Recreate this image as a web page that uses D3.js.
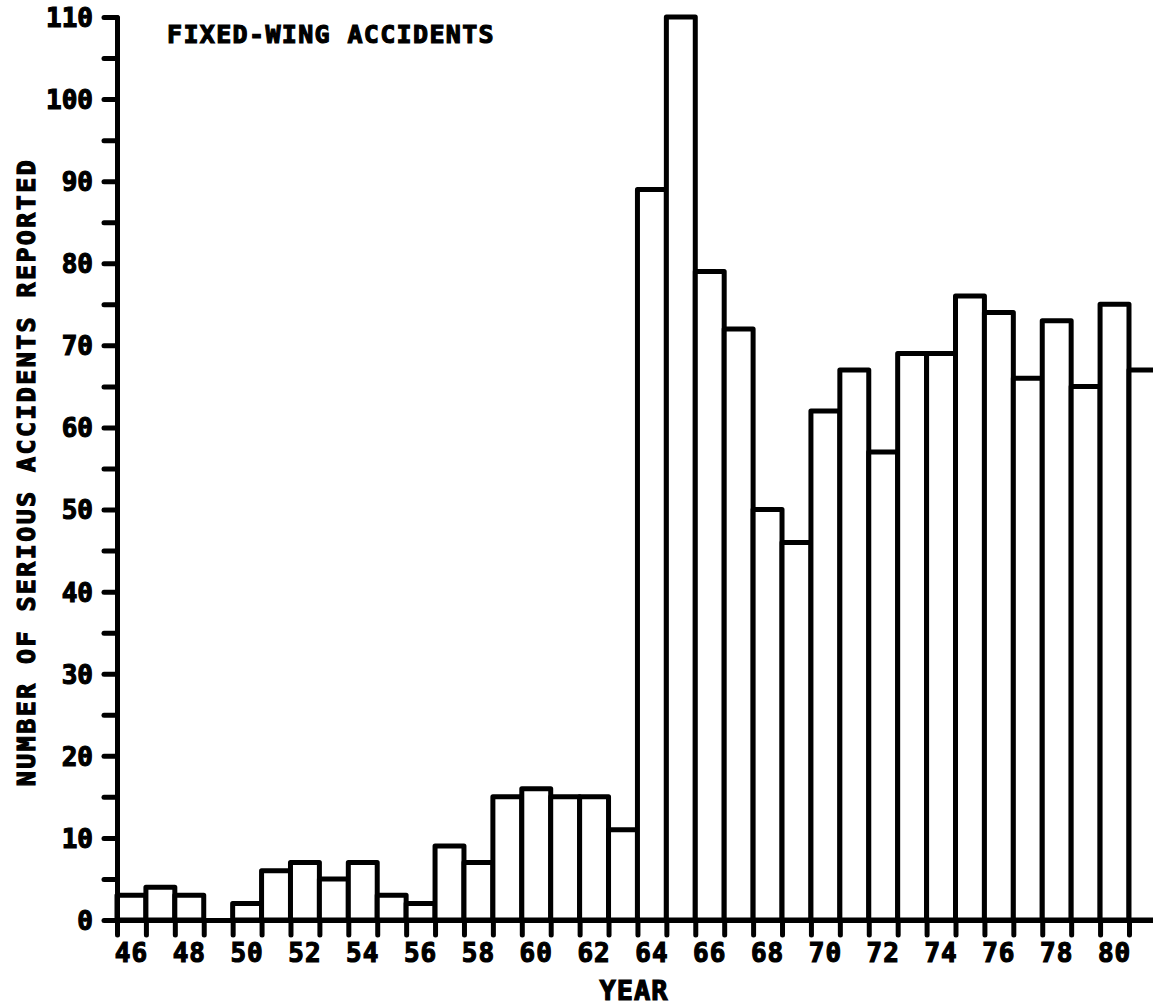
<!DOCTYPE html>
<html>
<head>
<meta charset="utf-8">
<script src="https://cdn.jsdelivr.net/npm/d3@7"></script>
<style>
  html, body { margin: 0; padding: 0; background: #fff; }
  svg { display: block; }
  text { font-family: "DejaVu Sans Mono", monospace; font-weight: bold; fill: #000; }
</style>
</head>
<body>
<svg id="chart" width="1153" height="1006"></svg>
<script>
const years = [46,47,48,49,50,51,52,53,54,55,56,57,58,59,60,61,62,63,64,65,66,67,68,69,70,71,72,73,74,75,76,77,78,79,80,81];
const accidents = [3,4,3,0,2,6,7,5,7,3,2,9,7,15,16,15,15,11,89,110,79,72,50,46,62,67,57,69,69,76,74,66,73,65,75,67];
const yTicks = [0,5,10,15,20,25,30,35,40,45,50,55,60,65,70,75,80,85,90,95,100,105,110];
const xLabels = [46,48,50,52,54,56,58,60,62,64,66,68,70,72,74,76,78,80];
const titleText = "FIXED-WING ACCIDENTS";
const yTitle = "NUMBER OF SERIOUS ACCIDENTS REPORTED";
const xTitle = "YEAR";

const svg = d3.select("#chart");
const SW = 5;
const TS = 1.2;
const x0 = 117, barW = 28.914;
const x = d3.scaleLinear().domain([46, 82]).range([x0, x0 + 36 * barW]);
const y = d3.scaleLinear().domain([0, 110]).range([920, 17]);

// bars
svg.append("g").selectAll("rect")
  .data(years.map((yr, i) => ({yr, v: accidents[i]})).filter(d => d.v > 0))
  .join("rect")
  .attr("x", d => x(d.yr))
  .attr("width", d => x(d.yr + 1) - x(d.yr))
  .attr("y", d => y(d.v))
  .attr("height", d => y(0) - y(d.v))
  .attr("fill", "#fff")
  .attr("stroke", "#000")
  .attr("stroke-width", SW)
  .attr("stroke-linejoin", "round");

// y axis
const yAxis = svg.append("g")
  .attr("transform", `translate(${x0},0)`)
  .call(d3.axisLeft(y).tickValues(yTicks).tickSize(13).tickSizeOuter(0).tickPadding(11)
    .tickFormat(d => d % 10 === 0 ? d : ""));
yAxis.select(".domain").attr("stroke", "#000").attr("stroke-width", SW).attr("stroke-linecap", "round");
yAxis.selectAll(".tick line").attr("stroke", "#000").attr("stroke-width", SW).attr("stroke-linecap", "round");
yAxis.selectAll(".tick text")
  .attr("font-family", "DejaVu Sans Mono").attr("font-weight", "bold")
  .attr("font-size", 26).attr("stroke", "#000").attr("stroke-width", TS)
  .attr("dy", "0.36em");

// x axis
const xAxis = svg.append("g")
  .attr("transform", `translate(0,${y(0)})`)
  .call(d3.axisBottom(x).tickValues(d3.range(46, 83)).tickSize(15).tickSizeOuter(0).tickFormat(""));
xAxis.select(".domain").attr("stroke", "#000").attr("stroke-width", SW);
xAxis.selectAll(".tick line").attr("stroke", "#000").attr("stroke-width", SW).attr("stroke-linecap", "round");

// x labels
svg.append("g").selectAll("text")
  .data(xLabels)
  .join("text")
  .attr("x", d => x(d + 0.5))
  .attr("y", 962)
  .attr("text-anchor", "middle")
  .attr("font-size", 26)
  .attr("letter-spacing", 1)
  .attr("stroke", "#000").attr("stroke-width", TS)
  .text(d => d);

// x title
svg.append("text")
  .attr("x", 634).attr("y", 1000)
  .attr("text-anchor", "middle")
  .attr("font-size", 27)
  .attr("letter-spacing", 1)
  .attr("stroke", "#000").attr("stroke-width", TS)
  .text(xTitle);

// y title
svg.append("text")
  .attr("transform", "translate(35,472) rotate(-90)")
  .attr("text-anchor", "middle")
  .attr("font-size", 25)
  .attr("letter-spacing", 2.4)
  .attr("stroke", "#000").attr("stroke-width", TS)
  .text(yTitle);

// chart title
svg.append("text")
  .attr("x", 167).attr("y", 43)
  .attr("font-size", 25)
  .attr("letter-spacing", 1.35)
  .attr("stroke", "#000").attr("stroke-width", TS)
  .text(titleText);
</script>
</body>
</html>
